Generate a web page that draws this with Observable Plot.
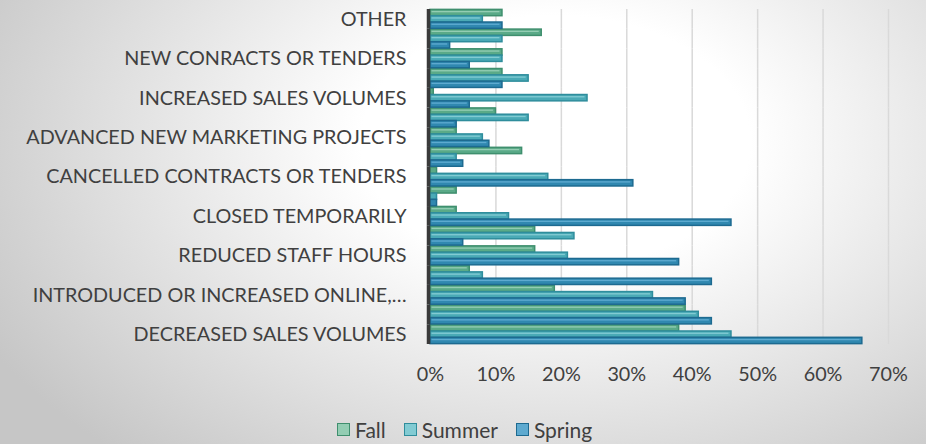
<!DOCTYPE html>
<html>
<head>
<meta charset="utf-8">
<script src="https://cdn.jsdelivr.net/npm/d3@7"></script>
<script src="https://cdn.jsdelivr.net/npm/@observablehq/plot@0.6"></script>
<style>
  html, body { margin: 0; padding: 0; }
  body {
    width: 926px; height: 444px; overflow: hidden; position: relative;
    background: radial-gradient(ellipse 70% 95% at 60% 32%, #ffffff 0%, #ffffff 30%, #c6c6c6 100%);
    font-family: Lato, "Open Sans", sans-serif; color: #404040;
  }
  #chart { position: absolute; left: 0; top: 0; }
  #legend { position: absolute; left: 337px; top: 417px; display: flex; align-items: center; font-size: 21px; color: #404040; }
  #legend .item { display: flex; align-items: center; margin-right: 18px; }
  #legend .sw { width: 11px; height: 11px; border: 1.5px solid; margin-right: 5px; }
</style>
</head>
<body>
<div id="chart"></div>
<div id="legend"></div>
<script>
const categories = [
  "OTHER", "(unlabelled 1)", "NEW CONRACTS OR TENDERS", "(unlabelled 2)",
  "INCREASED SALES VOLUMES", "(unlabelled 3)", "ADVANCED NEW MARKETING PROJECTS", "(unlabelled 4)",
  "CANCELLED CONTRACTS OR TENDERS", "(unlabelled 5)", "CLOSED TEMPORARILY", "(unlabelled 6)",
  "REDUCED STAFF HOURS", "(unlabelled 7)", "INTRODUCED OR INCREASED ONLINE,…", "(unlabelled 8)",
  "DECREASED SALES VOLUMES"
];
const shownLabels = categories.filter((d, i) => i % 2 === 0);
const seriesNames = ["Fall", "Summer", "Spring"];
// percentages, top to bottom
const fall   = [11, 17, 11, 11, 0.5, 10, 4, 14, 1, 4, 4, 16, 16, 6, 19, 39, 38];
const summer = [8, 11, 11, 15, 24, 15, 8, 4, 18, 1, 12, 22, 21, 8, 34, 41, 46];
const spring = [11, 3, 6, 11, 6, 4, 9, 5, 31, 1, 46, 5, 38, 43, 39, 43, 66];
const xTicks = [0, 0.1, 0.2, 0.3, 0.4, 0.5, 0.6, 0.7];

const fills   = {Fall: "#5aaa88", Summer: "#4aaab6", Spring: "#3088b0"};
const strokes = {Fall: "#3f8f6e", Summer: "#2f8d9c", Spring: "#1d6a90"};
const lights  = {Fall: "#93cdb3", Summer: "#82cbd3", Spring: "#5eaad0"};

const seriesValues = {Fall: fall, Summer: summer, Spring: spring};
const data = seriesNames.flatMap(s => categories.map((c, i) => ({category: c, series: s, value: seriesValues[s][i] / 100})));

const shown = new Set(shownLabels);
const barMarks = seriesNames.flatMap(s => {
  const d = data.filter(r => r.series === s);
  return [
    Plot.barX(d, {fy: "category", y: "series", x: "value", fill: fills[s], stroke: strokes[s], strokeWidth: 1.5}),
    Plot.barX(d.filter(r => r.value > 0.01), {fy: "category", y: "series", x: "value", fill: lights[s], insetTop: 1.6, insetBottom: 3.4, insetLeft: 1.5, insetRight: 2.5})
  ];
});

const chart = Plot.plot({
  width: 926,
  height: 400,
  marginLeft: 430,
  marginRight: 38,
  marginTop: 9,
  marginBottom: 56,
  style: {fontFamily: "Lato, sans-serif", fontSize: "19.8px", color: "#404040", background: "transparent", overflow: "visible"},
  x: {domain: [0, 0.7], ticks: xTicks, tickFormat: d3.format(".0%"), tickSize: 0, tickPadding: 22, label: null},
  y: {domain: seriesNames, paddingInner: 0, paddingOuter: 0.06, axis: null, round: false},
  fy: {domain: categories, padding: 0, round: false, axis: "left", tickSize: 0, tickPadding: 24, label: null, tickFormat: d => shown.has(d) ? d : ""},
  marks: [
    Plot.gridX(xTicks.slice(1), {stroke: "#d9d9d9", strokeOpacity: 1, strokeWidth: 1.5}),
    ...barMarks,
    Plot.ruleX([0], {stroke: "#3a3a3a", strokeWidth: 3.5, dx: -2})
  ]
});
document.getElementById("chart").appendChild(chart);

const legend = document.getElementById("legend");
for (const s of seriesNames) {
  const item = document.createElement("div");
  item.className = "item";
  const sw = document.createElement("span");
  sw.className = "sw";
  sw.style.background = lights[s];
  sw.style.borderColor = strokes[s];
  const t = document.createElement("span");
  t.textContent = s;
  item.appendChild(sw); item.appendChild(t);
  legend.appendChild(item);
}
</script>
</body>
</html>
